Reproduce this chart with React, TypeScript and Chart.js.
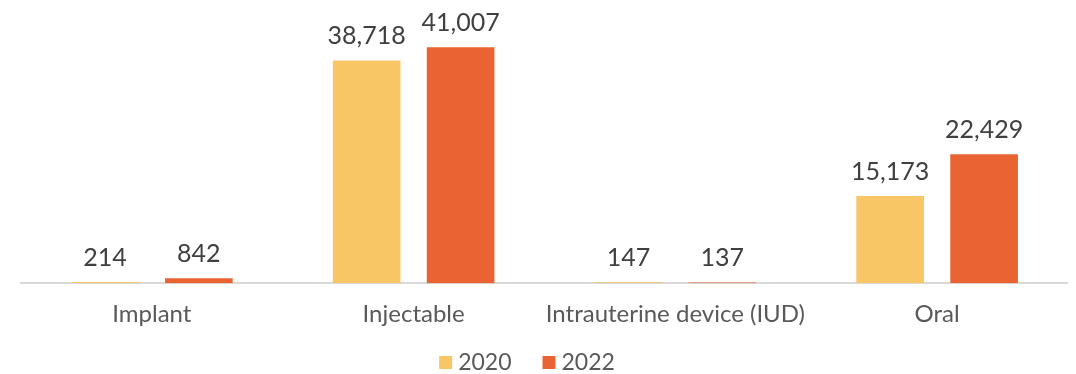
import React, { useEffect, useRef } from "react";
import { Chart, registerables } from "chart.js";

Chart.register(...registerables);

const categories = ["Implant", "Injectable", "Intrauterine device (IUD)", "Oral"];
const series2020 = [214, 38718, 147, 15173];
const series2022 = [842, 41007, 137, 22429];
const seriesLabels = ["2020", "2022"];
const seriesColors = ["#F8C665", "#EA6333"];

const FONT = "Lato, 'Noto Sans', sans-serif";

const valueLabels = {
  id: "valueLabels",
  afterDatasetsDraw(chart: any) {
    const ctx = chart.ctx;
    ctx.save();
    ctx.font = `25px ${FONT}`;
    ctx.fillStyle = "#404040";
    ctx.textAlign = "center";
    ctx.textBaseline = "middle";
    chart.data.datasets.forEach((ds: any, i: number) => {
      const meta = chart.getDatasetMeta(i);
      meta.data.forEach((el: any, j: number) => {
        const v = ds.data[j] as number;
        ctx.fillText(v.toLocaleString("en-US"), el.x, el.y - 24);
      });
    });
    ctx.restore();
  },
};

const bottomLegend = {
  id: "bottomLegend",
  afterDraw(chart: any) {
    const ctx = chart.ctx;
    ctx.save();
    ctx.font = `23px ${FONT}`;
    ctx.textBaseline = "middle";
    ctx.textAlign = "left";
    const box = 13;
    const gapBox = 6;
    const gapItem = 31;
    const items = chart.data.datasets.map((ds: any) => ({
      text: ds.label,
      color: ds.backgroundColor,
      w: ctx.measureText(ds.label).width,
    }));
    const total =
      items.reduce((s: number, it: any) => s + box + gapBox + it.w, 0) +
      gapItem * (items.length - 1);
    const cy = chart.height - 11.5;
    let x = chart.width / 2 - 11 - total / 2;
    items.forEach((it: any) => {
      ctx.fillStyle = it.color;
      ctx.fillRect(x, cy - box / 2, box, box);
      x += box + gapBox;
      ctx.fillStyle = "#595959";
      ctx.fillText(it.text, x, cy);
      x += it.w + gapItem;
    });
    ctx.restore();
  },
};

export default function App() {
  const ref = useRef<HTMLCanvasElement>(null);
  useEffect(() => {
    let chart: Chart | null = null;
    let cancelled = false;
    const make = () => {
      if (cancelled || !ref.current) return;
      chart = new Chart(ref.current, {
        type: "bar",
        data: {
          labels: categories,
          datasets: [
            { label: seriesLabels[0], data: series2020, backgroundColor: seriesColors[0] },
            { label: seriesLabels[1], data: series2022, backgroundColor: seriesColors[1] },
          ],
        },
        options: {
          responsive: false,
          animation: false,
          devicePixelRatio: 1,
          layout: { padding: { top: 22, left: 13, right: 0, bottom: 28 } },
          datasets: {
            bar: { categoryPercentage: 0.718, barPercentage: 0.72 },
          },
          scales: {
            x: {
              grid: { display: false, drawTicks: false },
              border: { display: true, color: "#D9D9D9", width: 2 },
              ticks: {
                color: "#595959",
                font: { family: FONT, size: 24 },
                padding: 17,
                maxRotation: 0,
                minRotation: 0,
                autoSkip: false,
              },
            },
            y: {
              display: false,
              min: 0,
              max: 44000,
            },
          },
          plugins: {
            legend: { display: false },
            tooltip: { enabled: false },
          },
        },
        plugins: [valueLabels, bottomLegend],
      });
    };
    if ((document as any).fonts && (document as any).fonts.load) {
      (document as any).fonts.load(`22px Lato`).then(make, make);
    } else {
      make();
    }
    return () => {
      cancelled = true;
      if (chart) chart.destroy();
    };
  }, []);
  return (
    <div style={{ width: 1060, height: 366 }}>
      <canvas ref={ref} width={1060} height={366} style={{ display: "block" }} />
    </div>
  );
}
